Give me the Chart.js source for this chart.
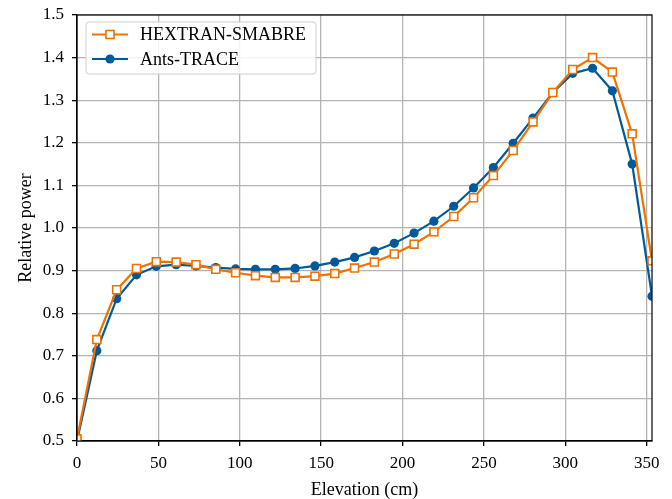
<!DOCTYPE html>
<html>
<head>
<meta charset="utf-8">
<script src="https://cdn.jsdelivr.net/npm/chart.js@4"></script>
<style>
    html, body { margin: 0; padding: 0; background: #fff; }
    #wrap { width: 672px; height: 499px; position: relative; }
</style>
</head>
<body>
<div id="wrap"><canvas id="powerChart"></canvas></div>
<script>
// Elevation of each node (cm)
const elevation = [
    0, 12.18, 24.37, 36.55, 48.73, 60.92, 73.1, 85.28, 97.46, 109.65,
    121.83, 134.01, 146.2, 158.38, 170.56, 182.74, 194.93, 207.11, 219.29, 231.48,
    243.66, 255.84, 268.02, 280.21, 292.39, 304.57, 316.76, 328.94, 341.12, 353.3
];

// Relative power, HEXTRAN-SMABRE
const hextranPower = [
    0.505, 0.738, 0.855, 0.905, 0.921, 0.920, 0.914, 0.903, 0.895, 0.888,
    0.884, 0.884, 0.887, 0.893, 0.906, 0.920, 0.939, 0.962, 0.991, 1.027,
    1.071, 1.123, 1.182, 1.249, 1.318, 1.372, 1.400, 1.366, 1.221, 0.923
];

// Relative power, Ants-TRACE
const antsPower = [
    0.500, 0.712, 0.834, 0.890, 0.910, 0.914, 0.911, 0.907, 0.904, 0.903,
    0.903, 0.905, 0.911, 0.920, 0.931, 0.946, 0.964, 0.988, 1.016, 1.051,
    1.094, 1.142, 1.199, 1.258, 1.318, 1.363, 1.375, 1.322, 1.150, 0.840
];

const xTicks = [0, 50, 100, 150, 200, 250, 300, 350];
const yTicks = [0.5, 0.6, 0.7, 0.8, 0.9, 1.0, 1.1, 1.2, 1.3, 1.4, 1.5];

const seriesNames = ['HEXTRAN-SMABRE', 'Ants-TRACE'];

const font = 'Liberation Serif';
const colors = {
    orange: '#ef7100',
    blue: '#00599b',
    grid: '#b4b4b4'
};

const toPoints = (ys) => ys.map((y, i) => ({ x: elevation[i], y }));

// Black frame round the plot area, plus the matplotlib-style legend box
const framePlugin = {
    id: 'frame',
    afterDatasetsDraw(chart) {
        const { ctx, chartArea: a } = chart;
        ctx.save();
        ctx.strokeStyle = '#000';
        ctx.lineWidth = 1.2;
        ctx.strokeRect(a.left, a.top, a.right - a.left, a.bottom - a.top);

        // legend
        const bx = a.left + 9, by = a.top + 7, bw = 230, bh = 52;
        ctx.fillStyle = 'rgba(255,255,255,0.85)';
        ctx.strokeStyle = '#d0d0d0';
        ctx.lineWidth = 1;
        ctx.beginPath();
        ctx.roundRect(bx, by, bw, bh, 3);
        ctx.fill();
        ctx.stroke();

        chart.data.datasets.forEach((ds, i) => {
            const ly = by + 12.5 + i * 24.5;
            ctx.strokeStyle = ds.borderColor;
            ctx.lineWidth = 2.2;
            ctx.beginPath();
            ctx.moveTo(bx + 6, ly);
            ctx.lineTo(bx + 42, ly);
            ctx.stroke();
            ctx.fillStyle = ds.pointBackgroundColor;
            ctx.strokeStyle = ds.borderColor;
            ctx.lineWidth = 1.6;
            if (ds.pointStyle === 'rect') {
                ctx.fillRect(bx + 20, ly - 4, 8, 8);
                ctx.strokeRect(bx + 20, ly - 4, 8, 8);
            } else {
                ctx.beginPath();
                ctx.arc(bx + 24, ly, 4.6, 0, Math.PI * 2);
                ctx.fill();
            }
            ctx.fillStyle = '#000';
            ctx.font = `18px "${font}"`;
            ctx.textBaseline = 'middle';
            ctx.fillText(ds.label, bx + 54, ly + 1);
        });
        ctx.restore();
    }
};

new Chart(document.getElementById('powerChart'), {
    type: 'line',
    data: {
        datasets: [
            {
                label: seriesNames[0],
                data: toPoints(hextranPower),
                borderColor: colors.orange,
                backgroundColor: colors.orange,
                borderWidth: 2.2,
                pointStyle: 'rect',
                pointRadius: 5.6,
                pointBorderWidth: 1.6,
                pointBackgroundColor: '#fff',
                pointBorderColor: colors.orange,
                clip: 0
            },
            {
                label: seriesNames[1],
                data: toPoints(antsPower),
                borderColor: colors.blue,
                backgroundColor: colors.blue,
                borderWidth: 2.2,
                pointStyle: 'circle',
                pointRadius: 4.6,
                pointBorderWidth: 0,
                pointBackgroundColor: colors.blue,
                pointBorderColor: colors.blue,
                clip: 0
            }
        ]
    },
    options: {
        responsive: true,
        maintainAspectRatio: false,
        animation: false,
        layout: { padding: { top: 15, right: 20, left: 0, bottom: 0 } },
        plugins: {
            legend: { display: false },
            tooltip: { enabled: false }
        },
        scales: {
            x: {
                type: 'linear',
                min: 0,
                max: 353.3,
                afterBuildTicks: (scale) => { scale.ticks = xTicks.map(v => ({ value: v })); },
                afterFit: (scale) => { scale.height = 58; },
                ticks: {
                    color: '#000',
                    font: { family: font, size: 17 },
                    padding: 7,
                    maxRotation: 0
                },
                grid: { color: colors.grid, lineWidth: 1.3, tickColor: '#000', tickLength: 5 },
                border: { color: '#000', width: 1.2 },
                title: {
                    display: true,
                    text: 'Elevation (cm)',
                    color: '#000',
                    font: { family: font, size: 18 },
                    padding: { top: 0, bottom: -2 }
                }
            },
            y: {
                min: 0.5,
                max: 1.5,
                afterBuildTicks: (scale) => { scale.ticks = yTicks.map(v => ({ value: v })); },
                afterFit: (scale) => {
                    scale.width = 77;
                    scale.paddingTop = 0;
                    scale.paddingBottom = 0;
                },
                ticks: {
                    color: '#000',
                    font: { family: font, size: 17 },
                    padding: 8,
                    callback: (v) => v.toFixed(1)
                },
                grid: { color: colors.grid, lineWidth: 1.3, tickColor: '#000', tickLength: 5 },
                border: { color: '#000', width: 1.2 },
                title: {
                    display: true,
                    text: 'Relative power',
                    color: '#000',
                    font: { family: font, size: 18 },
                    padding: { top: 15, bottom: 0 }
                }
            }
        }
    },
    plugins: [framePlugin]
});
</script>
</body>
</html>
